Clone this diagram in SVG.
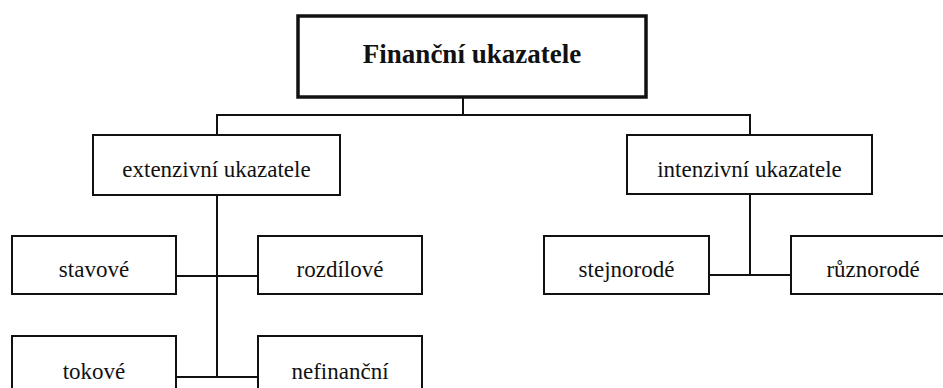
<svg xmlns="http://www.w3.org/2000/svg" width="943" height="388" viewBox="0 0 943 388">
<style>
.box{fill:#fff;stroke:#111;stroke-width:2}
.main{fill:#fff;stroke:#111;stroke-width:3.5}
.t{font-size:23px;fill:#111;text-anchor:middle}
.tb{font-size:27px;font-weight:bold;fill:#111;text-anchor:middle}
.c{stroke:#111;stroke-width:2;fill:none}
</style>
<rect width="943" height="388" fill="#fff"/>
<g id="connectors">
<path class="c" d="M463,97V115M216,115H751M217,114V135M750,114V135"/>
<path class="c" d="M217,195V378M176,276H258M176,377H258"/>
<path class="c" d="M750,194V276M709,275H791"/>
</g>
<g font-family="Liberation Serif, DejaVu Serif, serif">
<g id="n-financni"><rect class="main" x="298" y="16" width="348" height="81"/><text class="tb" x="472" y="63">Finanční ukazatele</text></g>
<g id="n-extenzivni"><rect class="box" x="93" y="135" width="247" height="60"/><text class="t" x="216.5" y="177">extenzivní ukazatele</text></g>
<g id="n-intenzivni"><rect class="box" x="627" y="135" width="245" height="59"/><text class="t" x="749.5" y="177">intenzivní ukazatele</text></g>
<g id="n-stavove"><rect class="box" x="12" y="236" width="164" height="58"/><text class="t" x="94" y="277">stavové</text></g>
<g id="n-rozdilove"><rect class="box" x="258" y="236" width="164" height="58"/><text class="t" x="340" y="277">rozdílové</text></g>
<g id="n-tokove"><rect class="box" x="12" y="336" width="164" height="58"/><text class="t" x="94" y="379">tokové</text></g>
<g id="n-nefinancni"><rect class="box" x="258" y="336" width="164" height="58"/><text class="t" x="340" y="379">nefinanční</text></g>
<g id="n-stejnorode"><rect class="box" x="544" y="236" width="165" height="58"/><text class="t" x="626.5" y="277">stejnorodé</text></g>
<g id="n-ruznorode"><rect class="box" x="791" y="236" width="164" height="58"/><text class="t" x="873" y="277">různorodé</text></g>
</g>
</svg>
